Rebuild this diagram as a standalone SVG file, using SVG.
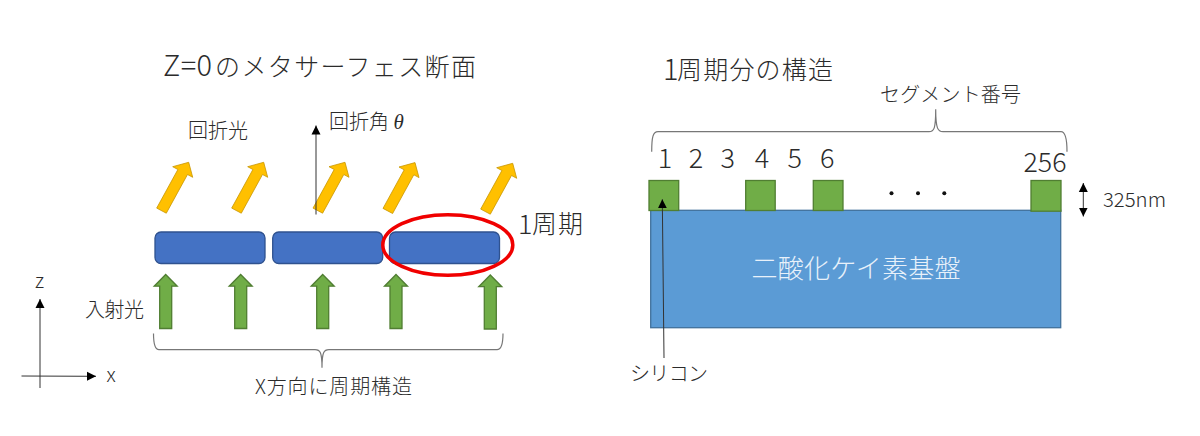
<svg xmlns="http://www.w3.org/2000/svg" xmlns:xlink="http://www.w3.org/1999/xlink" width="1200" height="436" viewBox="0 0 1200 436">
<style>
text{font-family:"Noto Sans CJK JP","Noto Sans",sans-serif;fill:#2b2b2b;font-weight:300}
.blue{fill:#4472c4;stroke:#2f528f;stroke-width:1.3}
.green{fill:#70ad47;stroke:#507e32;stroke-width:1.3}
.yellow{fill:#ffc000;stroke:#c89500;stroke-width:.8}
.sub{fill:#5b9bd5;stroke:#41719c;stroke-width:1.3}
.ax{fill:none;stroke:#333;stroke-width:1}
.brace{fill:none;stroke:#777;stroke-width:1.2}
.s20{font-size:20px}.s25{font-size:25px}.num{font-size:27px;text-anchor:middle}
</style>
<defs>
<marker id="tip" markerUnits="userSpaceOnUse" markerWidth="10" markerHeight="10" refX="9" refY="5" orient="auto-start-reverse"><path d="M0 0.5L9 5L0 9.5Z" fill="#000"/></marker>
<polygon id="ya" class="yellow" points="0,0 4,15 -1.2,12.2 -22.4,50.9 -32,45.8 -10.8,7.2 -16,4.4"/>
<polygon id="ga" class="green" points="0,0 11.5,11.7 6,11.7 6,54 -6,54 -6,11.7 -11.5,11.7"/>
</defs>
<rect width="1200" height="436" fill="#fff"/>
<g id="title-left">
<text x="163" y="76" font-size="29" textLength="49" lengthAdjust="spacing">Z=0</text>
<text class="s25" x="215" y="76" textLength="261" lengthAdjust="spacing">のメタサーフェス断面</text>
</g>
<g id="title-right">
<text x="663" y="80" font-size="29">1</text>
<text class="s25" x="677" y="79" textLength="156" lengthAdjust="spacing">周期分の構造</text>
</g>
<g id="diffracted-arrows">
<use xlink:href="#ya" href="#ya" x="188.7" y="162.3"/>
<use xlink:href="#ya" href="#ya" x="263.7" y="162.3"/>
<use xlink:href="#ya" href="#ya" x="345" y="162.3"/>
<use xlink:href="#ya" href="#ya" x="415" y="162.6"/>
<use xlink:href="#ya" href="#ya" x="512.7" y="163.3"/>
<text class="s20" x="188" y="138" textLength="60" lengthAdjust="spacing">回折光</text>
</g>
<g id="period-1"><rect class="blue" x="155" y="232" width="110" height="31.5" rx="6"/></g>
<g id="period-2"><rect class="blue" x="272.7" y="232" width="110" height="31.5" rx="6"/></g>
<g id="period-3"><rect class="blue" x="389.5" y="232" width="110" height="31.5" rx="6"/></g>
<g id="period-highlight">
<ellipse cx="447.8" cy="245" rx="65" ry="30.3" fill="none" stroke="#f00000" stroke-width="3.5"/>
<text x="518" y="234" font-size="27">1</text>
<text x="532" y="233" font-size="25" textLength="51" lengthAdjust="spacing">周期</text>
</g>
<g id="incident-arrows">
<use xlink:href="#ga" href="#ga" x="165.7" y="274.5"/>
<use xlink:href="#ga" href="#ga" x="240.7" y="274.5"/>
<use xlink:href="#ga" href="#ga" x="322.7" y="274.5"/>
<use xlink:href="#ga" href="#ga" x="396" y="274.5"/>
<use xlink:href="#ga" href="#ga" x="490.3" y="275"/>
<text class="s20" x="85" y="317" textLength="59" lengthAdjust="spacing">入射光</text>
</g>
<g id="axes-labels">
<text x="39.5" y="288" font-size="20" text-anchor="middle">z</text>
<text x="111" y="382" font-size="20" text-anchor="middle">x</text>
<text class="s20" x="329" y="129">回折角 <tspan font-family="'Liberation Serif',serif" font-style="italic" font-size="21">θ</tspan></text>
</g>
<g id="periodic-label"><text class="s20" x="255" y="394" textLength="157" lengthAdjust="spacing">X方向に周期構造</text></g>
<g id="substrate">
<rect class="sub" x="650.7" y="210.3" width="410" height="117.4"/>
<text x="751.5" y="278" font-size="26" style="fill:#e8f1fa" textLength="209" lengthAdjust="spacing">二酸化ケイ素基盤</text>
</g>
<g id="segment-1"><rect class="green" x="649" y="180.5" width="29.7" height="30"/></g>
<g id="segment-4"><rect class="green" x="745.7" y="180.5" width="29.5" height="30"/></g>
<g id="segment-6"><rect class="green" x="813.3" y="180.5" width="29.7" height="30"/></g>
<g id="segment-256"><rect class="green" x="1031" y="180.5" width="30" height="30.7"/></g>
<g id="segment-numbers">
<text class="num" x="665" y="168">1</text>
<text class="num" x="696" y="168">2</text>
<text class="num" x="727.7" y="168">3</text>
<text class="num" x="762" y="168">4</text>
<text class="num" x="794.7" y="168">5</text>
<text class="num" x="827.3" y="168">6</text>
<text class="num" x="1045" y="172" textLength="43" lengthAdjust="spacingAndGlyphs">256</text>
<text class="s20" x="880" y="102" textLength="141" lengthAdjust="spacing">セグメント番号</text>
</g>
<g id="dots" fill="#111"><circle cx="891.5" cy="193.3" r="2"/><circle cx="918" cy="193.3" r="2"/><circle cx="944.3" cy="193.3" r="2"/></g>
<g id="labels-right">
<text x="1103" y="206.5" font-size="20" textLength="63" lengthAdjust="spacingAndGlyphs">325nm</text>
<text class="s20" x="630" y="381" textLength="78" lengthAdjust="spacing">シリコン</text>
</g>
<g id="connectors">
<line class="ax" x1="316" y1="214.5" x2="316" y2="125.5" marker-end="url(#tip)"/>
<line class="ax" x1="40" y1="388" x2="40" y2="299" marker-end="url(#tip)"/>
<line class="ax" x1="21.5" y1="376" x2="96" y2="376.3" marker-end="url(#tip)"/>
<line class="ax" x1="664" y1="358" x2="662.3" y2="199.3" marker-end="url(#tip)"/>
<line class="ax" x1="1083.3" y1="183" x2="1083.3" y2="216.5" marker-start="url(#tip)" marker-end="url(#tip)"/>
<path class="brace" d="M153.5 333.5C153.5 345 155 349.7 159 349.7H315C320 349.7 322 352 322 367.7C322 352 324 349.7 329 349.7H497C501 349.7 503 345 503 333.5"/>
<path class="brace" d="M651.7 151.7C651.7 137 653 131.7 658 131.7H929C934 131.7 935.7 129 935.7 109.3C935.7 129 938 131.7 943 131.7H1061C1065 131.7 1067 137 1067 151.7"/>
</g>
</svg>
